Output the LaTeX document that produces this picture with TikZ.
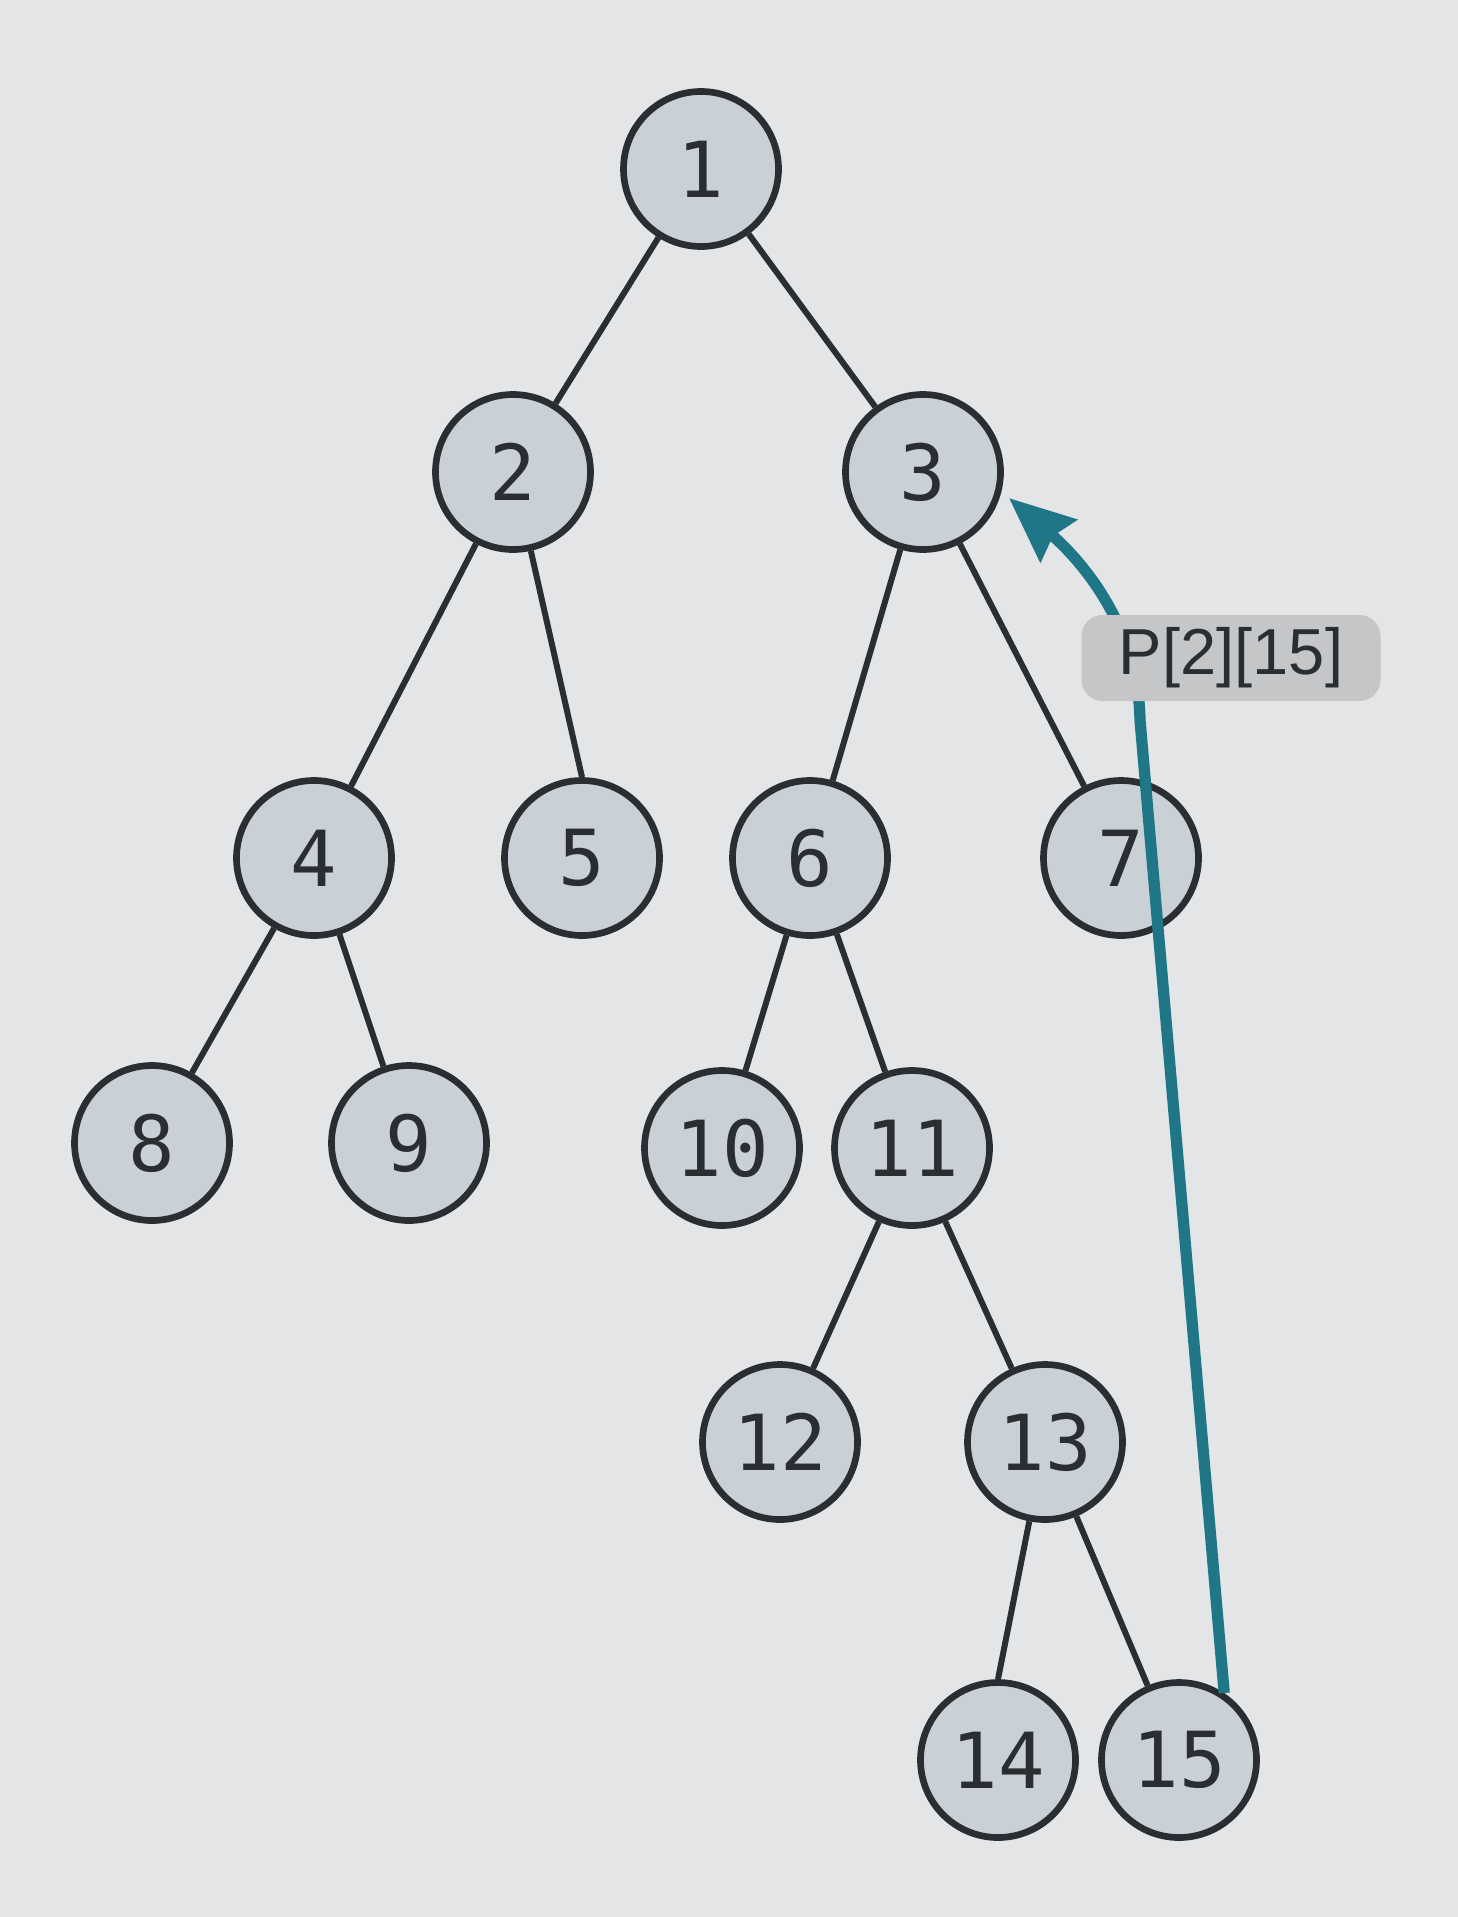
\documentclass[tikz,border=0pt]{standalone}
\usepackage{fontspec}
\setmainfont{Liberation Sans}
\setmonofont{DejaVu Sans Mono}
\usetikzlibrary{arrows.meta}

\definecolor{paper}{HTML}{E3E5E7}
\definecolor{vertexfill}{HTML}{C9D1D6}
\definecolor{tagfill}{HTML}{C4C6C8}
\definecolor{ink}{HTML}{2A2E32}
\definecolor{pathteal}{HTML}{1E7686}

\begin{document}
\begin{tikzpicture}[
    vertex/.style={
        circle,
        draw=ink,
        line width=1.9pt,
        fill=vertexfill,
        minimum size=1.55cm,
        inner sep=0pt,
        text=ink,
        font=\ttfamily\fontsize{22}{22}\selectfont
    },
    edge/.style={
        draw=ink,
        line width=1.7pt
    },
    tag/.style={
        rectangle,
        rounded corners=6pt,
        fill=tagfill,
        minimum width=2.99cm,
        minimum height=0.86cm,
        text=ink,
        font=\fontsize{18.5}{18.5}\selectfont
    },
    parentarrow/.style={
        draw=pathteal,
        line width=3.2pt,
        shorten >=1mm,
        -{Stealth[length=6.5mm,width=5.5mm,inset=0.7mm]}
    }
]

% Page
\fill[paper] (0,0) rectangle (14.58,-19.17);
\useasboundingbox (0,0) rectangle (14.58,-19.17);

% Vertices
\node[vertex] (1) at (7.01,-1.69) {1};
\node[vertex] (2) at (5.13,-4.72) {2};
\node[vertex] (3) at (9.23,-4.72) {3};
\node[vertex] (4) at (3.14,-8.58) {4};
\node[vertex] (5) at (5.82,-8.58) {5};
\node[vertex] (6) at (8.10,-8.58) {6};
\node[vertex] (7) at (11.21,-8.58) {7};
\node[vertex] (8) at (1.52,-11.43) {8};
\node[vertex] (9) at (4.09,-11.43) {9};
\node[vertex] (10) at (7.22,-11.48) {10};
\node[vertex] (11) at (9.12,-11.48) {11};
\node[vertex] (12) at (7.80,-14.42) {12};
\node[vertex] (13) at (10.45,-14.42) {13};
\node[vertex] (14) at (9.98,-17.60) {14};
\node[vertex] (15) at (11.79,-17.60) {15};

% Edges
\draw[edge] (1) -- (2);
\draw[edge] (1) -- (3);
\draw[edge] (2) -- (4);
\draw[edge] (2) -- (5.north);
\draw[edge] (3) -- (6);
\draw[edge] (3) -- (7);
\draw[edge] (4) -- (8);
\draw[edge] (4) -- (9);
\draw[edge] (6) -- (10);
\draw[edge] (6) -- (11);
\draw[edge] (11) -- (12);
\draw[edge] (11) -- (13);
\draw[edge] (13) -- (14.north);
\draw[edge] (13) -- (15);

% Ancestor jump
\coordinate (turn) at (11.40,-7.20);
\draw[parentarrow] (15.56) -- (turn) .. controls (11.38,-6.20) and (10.75,-5.55) .. (3.-14);
\node[tag] (jump) at (12.31,-6.58) {P[2][15]};

\end{tikzpicture}
\end{document}
